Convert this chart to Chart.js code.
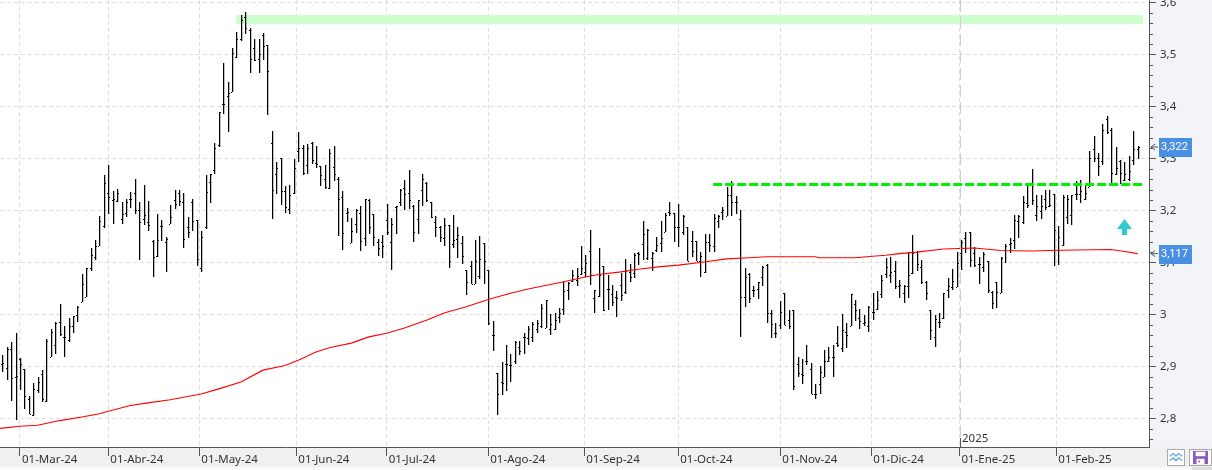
<!DOCTYPE html>
<html>
<head>
<meta charset="utf-8">
<title>Grafico</title>
<script src="https://cdn.jsdelivr.net/npm/chart.js@4"></script>
<style>
    html, body { margin: 0; padding: 0; background: #fff; overflow: hidden; }
    #wrap { position: relative; width: 1212px; height: 470px; }
    canvas { display: block; }
    .btn { position: absolute; top: 449px; height: 17px; border: 1px solid #aaa; background: #fff; box-sizing: border-box; }
</style>
</head>
<body>
<div id="wrap">
    <canvas id="myChart" width="1212" height="470"></canvas>
    <svg class="btn" style="left:1167px;width:18px" viewBox="0 0 18 17"><polyline points="2,7 6,4 9,7 12,4 16,7" fill="none" stroke="#6aa5d8" stroke-width="1.5"/><polyline points="2,12 6,9 9,12 12,9 16,12" fill="none" stroke="#6aa5d8" stroke-width="1.5"/></svg>
    <svg class="btn" style="left:1189px;width:23px" viewBox="0 0 23 17"><rect x="3" y="1" width="17" height="15" fill="#8a5cc2"/><rect x="6" y="2" width="11" height="5" fill="#fff"/><rect x="7" y="10" width="9" height="6" fill="#fff"/><rect x="9" y="12" width="2" height="2" fill="#8a5cc2"/></svg>
</div>
<script>
// Month labels of the time axis and where they fall, in bar numbers
var monthLabels = ["01-Mar-24", "01-Abr-24", "01-May-24", "01-Jun-24", "01-Jul-24", "01-Ago-24", "01-Sep-24", "01-Oct-24", "01-Nov-24", "01-Dic-24", "01-Ene-25", "01-Feb-25"];
var monthBars = [4, 24, 44.6, 66.55, 87, 110, 131.7, 153, 176.1, 196.7, 216.66, 238.57];

// Price axis
var priceTicks = [3.6, 3.5, 3.4, 3.3, 3.2, 3.1, 3.0, 2.9, 2.8];
var priceLabels = ["3,6", "3,5", "3,4", "3,3", "3,2", "3,1", "3", "2,9", "2,8"];

// Daily bars
var highs = [
    2.923, 2.937, 2.948, 2.964, 2.916, 2.896, 2.844, 2.868, 2.880, 2.893, 2.952, 2.972, 2.985, 3.020, 2.977, 2.993, 2.998, 3.016, 3.078, 3.089,
    3.127, 3.143, 3.190, 3.268, 3.288, 3.238, 3.241, 3.216, 3.222, 3.236, 3.261, 3.217, 3.249, 3.218, 3.143, 3.193, 3.182, 3.150, 3.211, 3.239,
    3.239, 3.234, 3.188, 3.222, 3.182, 3.161, 3.268, 3.271, 3.329, 3.390, 3.483, 3.447, 3.512, 3.544, 3.576, 3.581, 3.550, 3.530, 3.530, 3.541,
    3.518, 3.353, 3.293, 3.300, 3.247, 3.249, 3.299, 3.351, 3.326, 3.327, 3.332, 3.324, 3.286, 3.288, 3.318, 3.324, 3.265, 3.238, 3.204, 3.185,
    3.202, 3.209, 3.223, 3.223, 3.193, 3.146, 3.153, 3.212, 3.186, 3.209, 3.241, 3.259, 3.278, 3.211, 3.220, 3.270, 3.255, 3.217, 3.190, 3.170,
    3.185, 3.172, 3.191, 3.168, 3.151, 3.086, 3.103, 3.143, 3.151, 3.137, 3.086, 2.988, 2.887, 2.909, 2.941, 2.925, 2.949, 2.949, 2.964, 2.978,
    2.986, 2.989, 3.020, 3.028, 3.001, 3.002, 3.012, 3.062, 3.062, 3.086, 3.089, 3.132, 3.115, 3.163, 3.048, 3.127, 3.093, 3.076, 3.057, 3.045,
    3.080, 3.107, 3.097, 3.118, 3.120, 3.180, 3.165, 3.120, 3.150, 3.180, 3.196, 3.216, 3.196, 3.213, 3.191, 3.169, 3.161, 3.141, 3.120, 3.154,
    3.154, 3.193, 3.191, 3.207, 3.246, 3.257, 3.227, 3.201, 3.089, 3.079, 3.054, 3.063, 3.093, 3.097, 3.009, 2.983, 3.026, 3.041, 3.009, 3.009,
    2.918, 2.914, 2.941, 2.906, 2.866, 2.901, 2.931, 2.937, 2.941, 2.977, 3.001, 2.984, 3.039, 3.028, 3.010, 2.999, 3.016, 3.041, 3.045, 3.076,
    3.109, 3.110, 3.102, 3.066, 3.057, 3.120, 3.153, 3.122, 3.105, 3.064, 3.009, 2.999, 3.002, 3.041, 3.070, 3.088, 3.120, 3.143, 3.158, 3.158,
    3.129, 3.111, 3.120, 3.102, 3.046, 3.063, 3.110, 3.135, 3.147, 3.191, 3.191, 3.228, 3.249, 3.279, 3.230, 3.230, 3.240, 3.240, 3.231, 3.170,
    3.230, 3.230, 3.230, 3.256, 3.259, 3.249, 3.315, 3.343, 3.310, 3.366, 3.382, 3.358, 3.323, 3.297, 3.294, 3.305, 3.353, 3.324
];
var lows = [
    2.890, 2.874, 2.834, 2.798, 2.854, 2.818, 2.808, 2.805, 2.850, 2.832, 2.832, 2.918, 2.924, 2.959, 2.919, 2.948, 2.965, 2.986, 3.025, 3.034,
    3.084, 3.105, 3.132, 3.167, 3.193, 3.175, 3.217, 3.174, 3.188, 3.205, 3.193, 3.104, 3.172, 3.161, 3.073, 3.111, 3.141, 3.082, 3.175, 3.203,
    3.209, 3.127, 3.148, 3.161, 3.093, 3.081, 3.164, 3.215, 3.270, 3.323, 3.386, 3.350, 3.427, 3.494, 3.525, 3.540, 3.465, 3.488, 3.465, 3.489,
    3.384, 3.184, 3.232, 3.211, 3.195, 3.193, 3.232, 3.293, 3.268, 3.271, 3.289, 3.281, 3.247, 3.241, 3.241, 3.257, 3.151, 3.124, 3.177, 3.138,
    3.156, 3.123, 3.132, 3.155, 3.131, 3.113, 3.109, 3.153, 3.086, 3.155, 3.209, 3.201, 3.202, 3.140, 3.155, 3.209, 3.217, 3.186, 3.150, 3.139,
    3.132, 3.090, 3.127, 3.109, 3.098, 3.038, 3.058, 3.058, 3.068, 3.058, 2.979, 2.930, 2.807, 2.845, 2.852, 2.870, 2.905, 2.922, 2.924, 2.941,
    2.947, 2.964, 2.975, 2.975, 2.961, 2.970, 2.984, 2.999, 3.028, 3.063, 3.054, 3.076, 3.073, 3.056, 3.002, 3.034, 3.007, 3.009, 3.017, 2.996,
    3.026, 3.039, 3.063, 3.070, 3.095, 3.105, 3.105, 3.084, 3.120, 3.120, 3.159, 3.190, 3.140, 3.129, 3.152, 3.103, 3.111, 3.103, 3.073, 3.080,
    3.121, 3.121, 3.166, 3.182, 3.190, 3.190, 3.193, 2.956, 3.015, 3.022, 3.034, 3.030, 3.054, 2.984, 2.954, 2.954, 2.972, 2.980, 2.973, 2.854,
    2.879, 2.866, 2.903, 2.848, 2.838, 2.848, 2.880, 2.909, 2.879, 2.937, 2.927, 2.936, 2.978, 2.988, 2.972, 2.977, 2.967, 2.989, 3.009, 3.031,
    3.070, 3.060, 3.049, 3.031, 3.023, 3.032, 3.078, 3.084, 3.058, 3.027, 2.951, 2.938, 2.975, 2.991, 3.031, 3.047, 3.052, 3.086, 3.119, 3.091,
    3.091, 3.059, 3.081, 3.041, 3.011, 3.013, 3.042, 3.100, 3.118, 3.126, 3.148, 3.175, 3.204, 3.211, 3.180, 3.184, 3.201, 3.206, 3.094, 3.095,
    3.132, 3.175, 3.173, 3.220, 3.215, 3.220, 3.245, 3.294, 3.266, 3.288, 3.348, 3.251, 3.268, 3.251, 3.256, 3.257, 3.288, 3.299
];
var opens = [
    2.905, 2.898, 2.934, 2.880, 2.915, 2.896, 2.837, 2.806, 2.854, 2.885, 2.834, 2.918, 2.941, 2.986, 2.956, 2.951, 2.977, 2.999, 3.025, 3.034,
    3.090, 3.110, 3.132, 3.171, 3.233, 3.220, 3.219, 3.183, 3.195, 3.222, 3.233, 3.201, 3.184, 3.177, 3.141, 3.113, 3.170, 3.139, 3.175, 3.220,
    3.233, 3.217, 3.168, 3.216, 3.181, 3.090, 3.168, 3.255, 3.277, 3.325, 3.404, 3.421, 3.427, 3.495, 3.529, 3.573, 3.547, 3.512, 3.491, 3.537,
    3.518, 3.329, 3.270, 3.300, 3.237, 3.203, 3.233, 3.314, 3.321, 3.288, 3.329, 3.291, 3.286, 3.260, 3.244, 3.283, 3.260, 3.225, 3.195, 3.138,
    3.175, 3.195, 3.148, 3.220, 3.193, 3.140, 3.140, 3.181, 3.139, 3.206, 3.216, 3.243, 3.233, 3.209, 3.184, 3.239, 3.252, 3.216, 3.177, 3.168,
    3.148, 3.172, 3.136, 3.145, 3.138, 3.085, 3.094, 3.059, 3.075, 3.137, 3.086, 2.961, 2.887, 2.870, 2.905, 2.903, 2.911, 2.938, 2.956, 2.954,
    2.956, 2.973, 2.978, 2.975, 2.972, 2.973, 2.995, 3.011, 3.047, 3.065, 3.066, 3.077, 3.082, 3.123, 3.031, 3.035, 3.093, 3.049, 3.039, 3.034,
    3.057, 3.043, 3.081, 3.080, 3.119, 3.135, 3.108, 3.109, 3.124, 3.137, 3.159, 3.197, 3.195, 3.168, 3.159, 3.169, 3.142, 3.141, 3.102, 3.081,
    3.139, 3.131, 3.179, 3.198, 3.190, 3.230, 3.216, 3.184, 3.034, 3.077, 3.047, 3.050, 3.073, 3.096, 3.002, 2.964, 2.979, 3.041, 2.989, 3.009,
    2.904, 2.886, 2.911, 2.895, 2.848, 2.866, 2.880, 2.911, 2.919, 2.945, 2.935, 2.967, 2.978, 3.020, 2.993, 2.983, 2.978, 3.004, 3.010, 3.039,
    3.078, 3.076, 3.084, 3.054, 3.042, 3.054, 3.079, 3.121, 3.092, 3.063, 3.009, 2.956, 2.985, 2.993, 3.047, 3.052, 3.052, 3.119, 3.148, 3.158,
    3.119, 3.098, 3.092, 3.102, 3.044, 3.063, 3.042, 3.124, 3.136, 3.143, 3.180, 3.177, 3.214, 3.250, 3.191, 3.199, 3.223, 3.209, 3.231, 3.124,
    3.134, 3.188, 3.191, 3.231, 3.231, 3.223, 3.245, 3.318, 3.300, 3.296, 3.375, 3.355, 3.270, 3.296, 3.259, 3.260, 3.298, 3.318
];
var closes = [
    2.906, 2.934, 2.877, 2.882, 2.905, 2.843, 2.808, 2.857, 2.870, 2.837, 2.949, 2.967, 2.984, 2.963, 2.956, 2.978, 2.997, 3.015, 3.058, 3.089,
    3.114, 3.132, 3.179, 3.252, 3.225, 3.222, 3.234, 3.193, 3.216, 3.223, 3.201, 3.177, 3.191, 3.173, 3.111, 3.144, 3.170, 3.145, 3.187, 3.212,
    3.218, 3.146, 3.158, 3.180, 3.106, 3.150, 3.235, 3.271, 3.320, 3.389, 3.404, 3.425, 3.502, 3.529, 3.566, 3.550, 3.491, 3.489, 3.501, 3.516,
    3.468, 3.239, 3.281, 3.237, 3.206, 3.229, 3.281, 3.321, 3.273, 3.321, 3.297, 3.289, 3.268, 3.246, 3.310, 3.270, 3.223, 3.156, 3.197, 3.161,
    3.201, 3.141, 3.223, 3.168, 3.150, 3.127, 3.132, 3.159, 3.175, 3.209, 3.240, 3.231, 3.220, 3.158, 3.220, 3.260, 3.221, 3.187, 3.169, 3.150,
    3.172, 3.103, 3.143, 3.152, 3.113, 3.062, 3.058, 3.103, 3.106, 3.103, 2.983, 2.961, 2.847, 2.868, 2.905, 2.903, 2.948, 2.929, 2.957, 2.972,
    2.982, 2.984, 3.013, 3.028, 2.982, 2.989, 3.002, 3.045, 3.061, 3.076, 3.074, 3.089, 3.100, 3.076, 3.047, 3.076, 3.009, 3.049, 3.025, 3.032,
    3.037, 3.084, 3.073, 3.115, 3.116, 3.154, 3.163, 3.119, 3.134, 3.147, 3.191, 3.195, 3.168, 3.168, 3.190, 3.103, 3.122, 3.102, 3.113, 3.139,
    3.134, 3.185, 3.190, 3.201, 3.230, 3.216, 3.216, 3.034, 3.073, 3.031, 3.047, 3.062, 3.092, 3.002, 2.981, 2.964, 3.005, 2.980, 2.977, 2.862,
    2.887, 2.884, 2.911, 2.848, 2.848, 2.889, 2.911, 2.919, 2.918, 2.941, 2.970, 2.960, 3.039, 3.009, 2.988, 2.986, 3.015, 3.005, 3.028, 3.066,
    3.091, 3.082, 3.054, 3.057, 3.055, 3.076, 3.118, 3.098, 3.062, 3.041, 2.971, 2.991, 2.985, 3.041, 3.055, 3.065, 3.100, 3.139, 3.127, 3.105,
    3.095, 3.098, 3.116, 3.047, 3.023, 3.044, 3.108, 3.132, 3.138, 3.182, 3.190, 3.217, 3.211, 3.220, 3.209, 3.209, 3.207, 3.211, 3.162, 3.150,
    3.225, 3.223, 3.230, 3.231, 3.238, 3.233, 3.300, 3.300, 3.285, 3.354, 3.350, 3.272, 3.281, 3.272, 3.270, 3.276, 3.318, 3.322
];

// Red moving average, read at these bar numbers
var avgBars = [-0.5, 4, 8, 13, 18, 22, 24, 29, 33, 38, 45, 49, 54, 59, 64, 67, 71, 74, 79, 83, 87, 91, 96, 100, 105, 110, 115, 119, 126, 132, 135, 140, 144, 149, 153, 158, 164, 169, 173, 184, 185, 193, 197, 200, 203, 207, 213, 220, 226, 233, 237, 243, 251, 254, 257];
var avgValues = [2.781, 2.785, 2.787, 2.796, 2.803, 2.809, 2.814, 2.825, 2.830, 2.836, 2.847, 2.857, 2.870, 2.893, 2.902, 2.912, 2.928, 2.936, 2.945, 2.957, 2.964, 2.974, 2.989, 3.003, 3.015, 3.029, 3.041, 3.049, 3.061, 3.072, 3.077, 3.082, 3.087, 3.092, 3.095, 3.100, 3.107, 3.109, 3.111, 3.111, 3.109, 3.109, 3.112, 3.114, 3.117, 3.120, 3.126, 3.128, 3.123, 3.122, 3.123, 3.124, 3.125, 3.121, 3.117];

// Drawn levels
var resistBars = [52.9, 258.2];
var resistLevel = 3.5675;
var supportBars = [160.9, 258];
var supportLevel = 3.25;

// Last values shown in the blue boxes
var lastValues = [3.322, 3.117];
var lastLabels = ["3,322", "3,117"];

// Year mark and the teal arrow
var yearBar = 216.66;
var yearLabel = "2025";
var arrowBar = 254;
var arrowTop = 3.1836;

function zip(xs, ys) {
    return xs.map(function (x, i) { return { x: x, y: ys[i] }; });
}

// High-low bars with the open tick on the left and the close tick on the right
class OhlcController extends Chart.BarController {
    draw() {
        var ctx = this.chart.ctx;
        var xs = this._cachedMeta.iScale;
        var ys = this._cachedMeta.vScale;
        ctx.save();
        ctx.fillStyle = "#000";
        highs.forEach(function (h, i) {
            var x = Math.round(xs.getPixelForValue(i));
            var top = Math.round(ys.getPixelForValue(h));
            var bottom = Math.round(ys.getPixelForValue(lows[i]));
            ctx.fillRect(x, top, 1.25, Math.max(bottom - top, 1));
            ctx.fillRect(x - 1, Math.round(ys.getPixelForValue(opens[i])), 1, 1);
            ctx.fillRect(x + 1, Math.round(ys.getPixelForValue(closes[i])), 1, 1);
        });
        ctx.restore();
    }
}
OhlcController.id = "ohlc";
OhlcController.defaults = Chart.BarController.defaults;
Chart.register(OhlcController);

// Panel backgrounds behind the chart
var panels = {
    id: "panels",
    beforeDraw: function (chart) {
        var ctx = chart.ctx;
        var a = chart.chartArea;
        ctx.save();
        ctx.fillStyle = "#f2f4f8";
        ctx.fillRect(a.right, 0, chart.width - a.right, a.bottom);
        ctx.fillStyle = "#f0f0f0";
        ctx.fillRect(0, a.bottom, chart.width, 20);
        ctx.fillStyle = "#fafafa";
        ctx.fillRect(0, 467, chart.width, 3);
        ctx.fillStyle = "#dcdcdc";
        ctx.fillRect(1192, 467, 20, 3);
        ctx.restore();
    }
};

// Year mark, minor price ticks, value boxes and the arrow
var extras = {
    id: "extras",
    afterDraw: function (chart) {
        var ctx = chart.ctx;
        var x = chart.scales.x;
        var y = chart.scales.y;
        var a = chart.chartArea;
        ctx.save();

        ctx.strokeStyle = "#555";
        ctx.lineWidth = 1;
        for (var t = 276; t <= 360; t += 2) {
            if (t % 10 === 0) continue;
            var py = Math.round(y.getPixelForValue(t / 100)) + 0.5;
            ctx.beginPath();
            ctx.moveTo(a.right, py);
            ctx.lineTo(a.right + 4, py);
            ctx.stroke();
        }

        var yearX = Math.round(x.getPixelForValue(yearBar)) + 0.5;
        ctx.strokeStyle = "#cfcfcf";
        ctx.lineWidth = 1;
        ctx.setLineDash([12, 5]);
        ctx.beginPath();
        ctx.moveTo(yearX, 0);
        ctx.lineTo(yearX, a.bottom - 9);
        ctx.stroke();
        ctx.setLineDash([]);
        ctx.strokeStyle = "#555";
        ctx.lineWidth = 1;
        ctx.beginPath();
        ctx.moveTo(yearX, a.bottom - 9);
        ctx.lineTo(yearX, a.bottom);
        ctx.stroke();
        ctx.fillStyle = "#333";
        ctx.font = "11.5px 'Noto Sans'";
        ctx.textBaseline = "middle";
        ctx.fillText(yearLabel, yearX + 1.5, a.bottom - 8.5);

        lastValues.forEach(function (v, i) {
            var py = y.getPixelForValue(v);
            ctx.fillStyle = "#4a90e2";
            ctx.fillRect(a.right + 10, Math.round(py) - 9, 33, 19);
            ctx.fillStyle = "#fff";
            ctx.font = "11px Roboto";
            ctx.fillText(lastLabels[i], a.right + 12, py + 0.5);
            ctx.strokeStyle = "#555";
            ctx.lineWidth = 1;
            ctx.beginPath();
            ctx.moveTo(a.right + 9, py);
            ctx.lineTo(a.right + 2, py);
            ctx.moveTo(a.right + 6, py - 3);
            ctx.lineTo(a.right + 2, py);
            ctx.lineTo(a.right + 6, py + 3);
            ctx.stroke();
        });

        var ax = x.getPixelForValue(arrowBar);
        var ay = y.getPixelForValue(arrowTop);
        ctx.fillStyle = "#33cccc";
        ctx.beginPath();
        ctx.moveTo(ax, ay);
        ctx.lineTo(ax + 7.5, ay + 10);
        ctx.lineTo(ax + 2.7, ay + 10);
        ctx.lineTo(ax + 2.7, ay + 16);
        ctx.lineTo(ax - 2.7, ay + 16);
        ctx.lineTo(ax - 2.7, ay + 10);
        ctx.lineTo(ax - 7.5, ay + 10);
        ctx.closePath();
        ctx.fill();
        ctx.restore();
    }
};

var ctx = document.getElementById("myChart").getContext("2d");

var myChart = new Chart(ctx, {
    type: "ohlc",
    plugins: [panels, extras],
    data: {
        datasets: [
            {
                type: "ohlc",
                label: "Precio",
                data: zip(highs.map(function (h, i) { return i; }), highs.map(function (h, i) { return [lows[i], h]; })),
                order: 3,
            },
            {
                type: "line",
                label: "Resistencia",
                data: zip(resistBars, [resistLevel, resistLevel]),
                borderColor: "#ccffcc",
                borderWidth: 9,
                pointRadius: 0,
                order: 4,
            },
            {
                type: "line",
                label: "Media",
                data: zip(avgBars, avgValues),
                borderColor: "#ff0000",
                borderWidth: 1.1,
                pointRadius: 0,
                order: 2,
            },
            {
                type: "line",
                label: "Soporte",
                data: zip(supportBars, [supportLevel, supportLevel]),
                borderColor: "#00f000",
                borderWidth: 3,
                borderDash: [9, 3],
                pointRadius: 0,
                order: 1,
            },
        ],
    },
    options: {
        responsive: false,
        animation: false,
        devicePixelRatio: 1,
        layout: { padding: 0 },
        plugins: { legend: { display: false }, tooltip: { enabled: false } },
        scales: {
            x: {
                type: "linear",
                min: -0.52,
                max: 259.55,
                offset: false,
                afterBuildTicks: function (scale) {
                    scale.ticks = monthBars.map(function (v) { return { value: v }; });
                },
                afterFit: function (scale) {
                    scale.height = 23;
                    scale.paddingLeft = 0;
                    scale.paddingRight = 0;
                },
                grid: { offset: false, color: "#dddddd", tickColor: "#555555", tickLength: 9, tickBorderDash: [] },
                border: { color: "#555555", width: 1, dash: [4, 3] },
                ticks: {
                    autoSkip: false,
                    maxRotation: 0,
                    minRotation: 0,
                    align: "start",
                    labelOffset: 2,
                    padding: -3,
                    color: "#333333",
                    font: { family: "'Noto Sans'", size: 11.5 },
                    callback: function (v, i) { return monthLabels[i]; },
                },
            },
            y: {
                type: "linear",
                position: "right",
                min: 2.7452,
                max: 3.6048,
                afterBuildTicks: function (scale) {
                    scale.ticks = priceTicks.map(function (v) { return { value: v }; });
                },
                afterFit: function (scale) {
                    scale.width = 63;
                    scale.paddingTop = 0;
                    scale.paddingBottom = 0;
                },
                grid: { color: "#dddddd", tickColor: "#555555", tickLength: 7, tickBorderDash: [] },
                border: { color: "#555555", width: 1, dash: [4, 3] },
                ticks: {
                    padding: 4,
                    color: "#333333",
                    font: { family: "'Noto Sans'", size: 11.5 },
                    callback: function (v, i) { return priceLabels[i]; },
                },
            },
        },
    },
});
</script>
</body>
</html>
